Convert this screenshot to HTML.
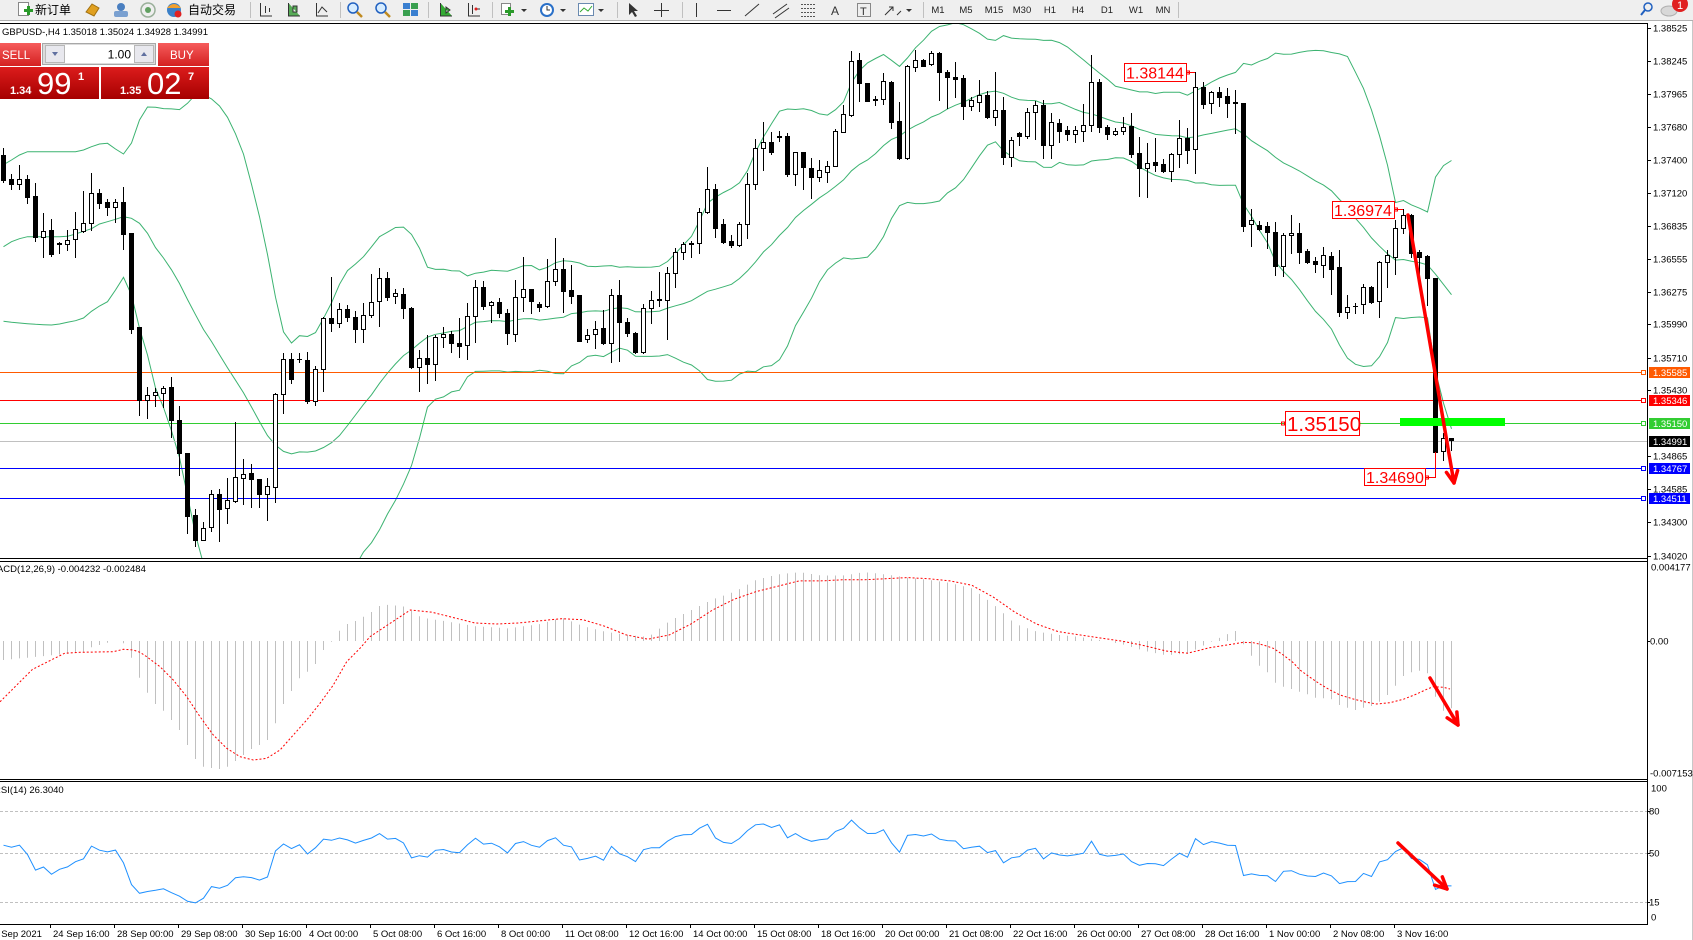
<!DOCTYPE html>
<html><head><meta charset="utf-8">
<style>
html,body{margin:0;padding:0;width:1693px;height:940px;overflow:hidden;background:#fff}
svg{position:absolute;left:0;top:0}
text{font-family:"Liberation Sans","Noto Sans CJK SC",sans-serif}
.ax{font-size:9.5px;fill:#000}
.lv{font-size:9.5px;fill:#fff}
</style></head><body>
<svg id="s" width="1693" height="940" xmlns="http://www.w3.org/2000/svg">
<defs>
<clipPath id="cm"><rect x="0" y="24" width="1647" height="534"/></clipPath>
<clipPath id="cd"><rect x="0" y="562" width="1647" height="217"/></clipPath>
<clipPath id="cr"><rect x="0" y="782" width="1647" height="142"/></clipPath>
<linearGradient id="gs" x1="0" y1="0" x2="0" y2="1"><stop offset="0" stop-color="#f65c5c"/><stop offset="1" stop-color="#d42020"/></linearGradient>
<linearGradient id="gp" x1="0" y1="0" x2="0" y2="1"><stop offset="0" stop-color="#dc1c1c"/><stop offset="1" stop-color="#a60000"/></linearGradient>
</defs>

<!-- toolbar -->
<rect x="0" y="0" width="1693" height="20" fill="#efefef"/>
<line x1="0" y1="20.5" x2="1693" y2="20.5" stroke="#b0b0b0"/>
<g>
<rect x="18.5" y="2.5" width="10" height="13" fill="#fff" stroke="#888"/>
<rect x="24" y="9" width="9" height="3" fill="#2a9a2a"/><rect x="27" y="6" width="3" height="9" fill="#2a9a2a"/>
<text x="35" y="14" font-size="12" fill="#000">新订单</text>
<polygon points="86,12 92,4 99,8 94,16" fill="#e0a020" stroke="#a07010"/>
<circle cx="121" cy="7" r="4" fill="#4a7fc0"/><rect x="114" y="11" width="14" height="6" rx="2" fill="#7aa0d0"/>
<circle cx="148" cy="10" r="7" fill="none" stroke="#9ab09a" stroke-width="1.5"/><circle cx="148" cy="10" r="3" fill="#60a060"/>
<circle cx="174" cy="10" r="7" fill="#3a80c8"/><path d="M167 8 Q174 0 181 8 Z" fill="#f0a030"/><circle cx="178" cy="14" r="3.5" fill="#e02020"/>
<text x="188" y="14" font-size="12" fill="#000">自动交易</text>
<line x1="250.5" y1="2" x2="250.5" y2="18" stroke="#c0c0c0"/>
<path d="M260.5 3 V16 H272 M265.5 6 V13 M269.5 8 V12" stroke="#333" fill="none"/>
<path d="M288.5 3 V16 H300 M293 6 h4 v6 h-4 z" stroke="#333" fill="#5a5"/>
<path d="M316.5 3 V16 H328 M318 13 L322 7 L327 12" stroke="#333" fill="none"/>
<line x1="340.5" y1="2" x2="340.5" y2="18" stroke="#c0c0c0"/>
<circle cx="353" cy="8" r="5" fill="#d6ecff" stroke="#2060c0" stroke-width="1.5"/><line x1="357" y1="12" x2="362" y2="17" stroke="#c08a20" stroke-width="2.5"/>
<circle cx="381" cy="8" r="5" fill="#d6ecff" stroke="#2060c0" stroke-width="1.5"/><line x1="385" y1="12" x2="390" y2="17" stroke="#c08a20" stroke-width="2.5"/>
<rect x="403" y="3" width="7" height="6" fill="#3a7fd0"/><rect x="411" y="3" width="7" height="6" fill="#3aa050"/><rect x="403" y="10" width="7" height="6" fill="#3aa050"/><rect x="411" y="10" width="7" height="6" fill="#3a7fd0"/>
<line x1="428.5" y1="2" x2="428.5" y2="18" stroke="#c0c0c0"/>
<path d="M440.5 3 V16 H452 M446 7 L450 10 L446 13 Z" stroke="#333" fill="#3a3"/>
<path d="M468.5 3 V16 H480 M472.5 5 V14 M476 9 H480" stroke="#333" fill="none"/><circle cx="476" cy="9" r="1.5" fill="#e02020"/>
<line x1="492.5" y1="2" x2="492.5" y2="18" stroke="#c0c0c0"/>
<rect x="501.5" y="3.5" width="9" height="11" fill="#fff" stroke="#888"/><rect x="505" y="10" width="9" height="3" fill="#2a9a2a"/><rect x="508" y="7" width="3" height="9" fill="#2a9a2a"/>
<polygon points="521,9 527,9 524,12" fill="#333"/>
<circle cx="547" cy="10" r="7" fill="#2a70c8"/><circle cx="547" cy="10" r="5" fill="#fff"/><path d="M547 6 V10 H550" stroke="#333" fill="none"/>
<polygon points="560,9 566,9 563,12" fill="#333"/>
<rect x="578.5" y="3.5" width="15" height="12" fill="#fff" stroke="#6a8ab0"/><path d="M580 12 L584 8 L588 11 L592 6" stroke="#3a3" fill="none"/>
<polygon points="598,9 604,9 601,12" fill="#333"/>
<line x1="617.5" y1="2" x2="617.5" y2="18" stroke="#c0c0c0"/>
<polygon points="629,3 629,15 632,12 635,17 637,16 634,11 638,11" fill="#333"/>
<path d="M661.5 3 V17 M654 10.5 H669" stroke="#333"/>
<line x1="682.5" y1="2" x2="682.5" y2="18" stroke="#c0c0c0"/>
<line x1="696.5" y1="3" x2="696.5" y2="17" stroke="#333"/>
<line x1="717" y1="10.5" x2="731" y2="10.5" stroke="#333"/>
<line x1="745" y1="16" x2="759" y2="4" stroke="#333"/>
<path d="M773 14 L787 4 M775 18 L789 8" stroke="#333"/>
<path d="M801 4.5 H815 M801 8.5 H815 M801 12.5 H815 M801 16.5 H815" stroke="#555" stroke-dasharray="2,1"/>
<text x="831" y="15" font-size="12" fill="#333">A</text>
<rect x="857.5" y="3.5" width="13" height="13" fill="none" stroke="#888"/><text x="860" y="15" font-size="11" fill="#333">T</text>
<path d="M885 15 L893 7 M889 7 H893 V11 M897 15 L901 11" stroke="#333" fill="none"/>
<polygon points="906,9 912,9 909,12" fill="#333"/>
<line x1="923.5" y1="2" x2="923.5" y2="18" stroke="#c0c0c0"/>
<g font-size="9.5" fill="#222" text-anchor="middle">
<text x="938" y="13">M1</text><text x="966" y="13">M5</text><text x="994" y="13">M15</text><text x="1022" y="13">M30</text><text x="1050" y="13">H1</text><text x="1078" y="13">H4</text><text x="1107" y="13">D1</text><text x="1136" y="13">W1</text><text x="1163" y="13">MN</text>
</g>
<line x1="1178.5" y1="2" x2="1178.5" y2="18" stroke="#c0c0c0"/>
<circle cx="1648" cy="7" r="4" fill="none" stroke="#2060c0" stroke-width="1.5"/><line x1="1645" y1="10" x2="1641" y2="15" stroke="#2060c0" stroke-width="2"/>
<ellipse cx="1669" cy="11" rx="8" ry="5" fill="#d8d8d8" stroke="#b0b0b0"/>
<circle cx="1680" cy="4" r="8" fill="#e02020"/><text x="1677" y="9" font-size="11" fill="#fff">1</text>
</g>

<!-- frames -->
<g stroke="#000" stroke-width="1">
<line x1="0" y1="23.5" x2="1648" y2="23.5"/>
<line x1="0" y1="558.5" x2="1648" y2="558.5"/>
<line x1="0" y1="561.5" x2="1648" y2="561.5"/>
<line x1="0" y1="779.5" x2="1648" y2="779.5"/>
<line x1="0" y1="781.5" x2="1648" y2="781.5"/>
<line x1="0" y1="924.5" x2="1648" y2="924.5"/>
<line x1="1647.5" y1="23" x2="1647.5" y2="925"/>
</g>
<line x1="1692.5" y1="21" x2="1692.5" y2="940" stroke="#c8c8c8"/>

<g id="bands" clip-path="url(#cm)" fill="none" stroke="#3cb371" stroke-width="1"></g>

<!-- level lines -->
<g stroke-width="1">
<line x1="0" y1="372.5" x2="1642" y2="372.5" stroke="#ff5a00"/>
<rect x="1641.5" y="370.5" width="4" height="4" fill="#fff" stroke="#ff5a00"/>
<line x1="0" y1="400.5" x2="1642" y2="400.5" stroke="#ff0000"/>
<rect x="1641.5" y="398.5" width="4" height="4" fill="#fff" stroke="#ff0000"/>
<line x1="0" y1="423.5" x2="1642" y2="423.5" stroke="#32cd32"/>
<rect x="1641.5" y="421.5" width="4" height="4" fill="#fff" stroke="#32cd32"/>
<line x1="0" y1="441.5" x2="1647" y2="441.5" stroke="#c0c0c0"/>
<line x1="0" y1="468.5" x2="1642" y2="468.5" stroke="#0000ff"/>
<rect x="1641.5" y="466.5" width="4" height="4" fill="#fff" stroke="#0000ff"/>
<line x1="0" y1="498.5" x2="1642" y2="498.5" stroke="#0000ff"/>
<rect x="1641.5" y="496.5" width="4" height="4" fill="#fff" stroke="#0000ff"/>
</g>

<g id="candles" clip-path="url(#cm)"></g>

<rect x="1400" y="418" width="105" height="8" fill="#00ff00"/>

<!-- price label objects -->
<g fill="#fff" stroke="#ff0000" stroke-width="1">
<rect x="1124.5" y="63.5" width="62" height="18"/>
<rect x="1332.5" y="201.5" width="62" height="17"/>
<rect x="1285.5" y="411.5" width="74" height="24"/>
<rect x="1364.5" y="468.5" width="61" height="17"/>
</g>
<g stroke="#ff0000" fill="none">
<path d="M1186.5 72.5 H1195"/><rect x="1186.5" y="71" width="3" height="3"/>
<path d="M1394.5 209.5 H1403"/><rect x="1394.5" y="208" width="3" height="3"/>
<rect x="1281.5" y="422" width="3" height="3"/>
<path d="M1425.5 477.5 H1435.5 V452"/><rect x="1425.5" y="476" width="3" height="3"/>
</g>
<g fill="#ff0000">
<text x="1126" y="78.5" font-size="16">1.38144</text>
<text x="1334" y="216" font-size="16">1.36974</text>
<text x="1287" y="431" font-size="20.5">1.35150</text>
<text x="1366" y="483" font-size="16">1.34690</text>
</g>

<!-- MACD -->
<g id="macd" clip-path="url(#cd)"></g>
<!-- RSI -->
<g clip-path="url(#cr)" stroke="#c0c0c0" stroke-dasharray="3,2">
<line x1="0" y1="811.5" x2="1647" y2="811.5"/>
<line x1="0" y1="853.5" x2="1647" y2="853.5"/>
<line x1="0" y1="902.5" x2="1647" y2="902.5"/>
</g>
<g id="rsi" clip-path="url(#cr)"></g>
<g id="arrows"></g>

<!-- header -->
<text x="2" y="35" font-size="9.5" fill="#000">GBPUSD-,H4  1.35018 1.35024 1.34928 1.34991</text>
<text x="-11" y="572" font-size="9.5" fill="#000">MACD(12,26,9) -0.004232 -0.002484</text>
<text x="-6" y="793" font-size="9.5" fill="#000">RSI(14) 26.3040</text>

<!-- trade panel -->
<rect x="0" y="43" width="41" height="23" fill="url(#gs)"/>
<text x="2" y="59" font-size="11.5" fill="#fff">SELL</text>
<rect x="42.5" y="43.5" width="113" height="21" fill="#dcdcdc" stroke="#a8a8a8"/>
<rect x="45.5" y="45.5" width="19" height="17" fill="#e8e8ee" stroke="#b8b8b8"/>
<polygon points="52,52 58,52 55,56" fill="#6070a0"/>
<rect x="65" y="45" width="69" height="18" fill="#fff"/>
<text x="131" y="58.5" font-size="12" fill="#000" text-anchor="end">1.00</text>
<rect x="134.5" y="45.5" width="19" height="17" fill="#e8e8ee" stroke="#b8b8b8"/>
<polygon points="141,56 147,56 144,52" fill="#6070a0"/>
<rect x="158" y="43" width="51" height="23" fill="url(#gs)"/>
<text x="170" y="59" font-size="11.5" fill="#fff">BUY</text>
<rect x="0" y="67" width="99" height="32" fill="url(#gp)"/>
<rect x="101" y="67" width="108" height="32" fill="url(#gp)"/>
<g fill="#fff">
<text x="10" y="94" font-size="11" font-weight="bold">1.34</text>
<text x="37" y="94" font-size="31">99</text>
<text x="78" y="80" font-size="11" font-weight="bold">1</text>
<text x="120" y="94" font-size="11" font-weight="bold">1.35</text>
<text x="147" y="94" font-size="31">02</text>
<text x="188" y="80" font-size="11" font-weight="bold">7</text>
</g>

<!-- right price axis -->
<g stroke="#000">
<path d="M1648 28.5h3M1648 61.5h3M1648 94.5h3M1648 127.5h3M1648 160.5h3M1648 193.5h3M1648 226.5h3M1648 259.5h3M1648 292.5h3M1648 324.5h3M1648 358.5h3M1648 390.5h3M1648 456.5h3M1648 489.5h3M1648 522.5h3M1648 556.5h3M1648 641.5h2M1648 811.5h2M1648 853.5h2M1648 902.5h2"/>
</g>
<g class="ax">
<text x="1653" y="31.5">1.38525</text>
<text x="1653" y="64.5">1.38245</text>
<text x="1653" y="97.5">1.37965</text>
<text x="1653" y="130.5">1.37680</text>
<text x="1653" y="163.5">1.37400</text>
<text x="1653" y="196.5">1.37120</text>
<text x="1653" y="229.5">1.36835</text>
<text x="1653" y="262.5">1.36555</text>
<text x="1653" y="295.5">1.36275</text>
<text x="1653" y="327.5">1.35990</text>
<text x="1653" y="361.5">1.35710</text>
<text x="1653" y="393.5">1.35430</text>
<text x="1653" y="459.5">1.34865</text>
<text x="1653" y="492.5">1.34585</text>
<text x="1653" y="525.5">1.34300</text>
<text x="1653" y="559.5">1.34020</text>
<text x="1651" y="570.5">0.004177</text>
<text x="1650" y="644.5">0.00</text>
<text x="1650" y="776.5">-0.007153</text>
<text x="1651" y="791.5">100</text>
<text x="1649" y="814.5">80</text>
<text x="1649" y="856.5">50</text>
<text x="1649" y="905.5">15</text>
<text x="1651" y="920.5">0</text>
</g>
<rect x="1649" y="367" width="41" height="11" fill="#ff5a00"/>
<rect x="1649" y="395" width="41" height="11" fill="#ff0000"/>
<rect x="1649" y="418" width="41" height="11" fill="#32cd32"/>
<rect x="1649" y="436" width="41" height="11" fill="#000"/>
<rect x="1649" y="463" width="41" height="11" fill="#0000ff"/>
<rect x="1649" y="493" width="41" height="11" fill="#0000ff"/>
<g class="lv">
<text x="1653" y="376">1.35585</text>
<text x="1653" y="404">1.35346</text>
<text x="1653" y="427">1.35150</text>
<text x="1653" y="445">1.34991</text>
<text x="1653" y="472">1.34767</text>
<text x="1653" y="502">1.34511</text>
</g>

<!-- time axis -->
<g stroke="#000"><path d="M50.5 925v3M114.5 925v3M178.5 925v3M242.5 925v3M306.5 925v3M370.5 925v3M434.5 925v3M498.5 925v3M562.5 925v3M626.5 925v3M690.5 925v3M754.5 925v3M818.5 925v3M882.5 925v3M946.5 925v3M1010.5 925v3M1074.5 925v3M1138.5 925v3M1202.5 925v3M1266.5 925v3M1330.5 925v3M1394.5 925v3"/></g>
<g class="ax">
<text x="-12" y="937">23 Sep 2021</text>
<text x="53" y="937">24 Sep 16:00</text>
<text x="117" y="937">28 Sep 00:00</text>
<text x="181" y="937">29 Sep 08:00</text>
<text x="245" y="937">30 Sep 16:00</text>
<text x="309" y="937">4 Oct 00:00</text>
<text x="373" y="937">5 Oct 08:00</text>
<text x="437" y="937">6 Oct 16:00</text>
<text x="501" y="937">8 Oct 00:00</text>
<text x="565" y="937">11 Oct 08:00</text>
<text x="629" y="937">12 Oct 16:00</text>
<text x="693" y="937">14 Oct 00:00</text>
<text x="757" y="937">15 Oct 08:00</text>
<text x="821" y="937">18 Oct 16:00</text>
<text x="885" y="937">20 Oct 00:00</text>
<text x="949" y="937">21 Oct 08:00</text>
<text x="1013" y="937">22 Oct 16:00</text>
<text x="1077" y="937">26 Oct 00:00</text>
<text x="1141" y="937">27 Oct 08:00</text>
<text x="1205" y="937">28 Oct 16:00</text>
<text x="1269" y="937">1 Nov 00:00</text>
<text x="1333" y="937">2 Nov 08:00</text>
<text x="1397" y="937">3 Nov 16:00</text>
</g>
</svg>
<script>
(function(){
const NS="http://www.w3.org/2000/svg";
function el(p,tag,a){const e=document.createElementNS(NS,tag);for(const k in a)e.setAttribute(k,a[k]);document.getElementById(p).appendChild(e);return e;}
const segs=[[90,[[0,195,270,175,275],[0,267,281,252,297],[1,268,281,225,297],[0,267,320,255,340],[0,318,440,280,452],[1,422,440,370,500],[0,420,492,387,498],[0,459,463,455,488],[1,449,463,420,480],[1,418,446,366,500],
[1,400,422,303,425],[1,310,400,249,420],[0,310,338,297,353],[0,336,350,327,374],[1,337,350,327,395],[0,336,432,291,476],[0,430,716,430,728],[0,711,930,711,974],[1,915,930,890,983],[1,906,916,895,948],
[1,895,910,887,950],[0,891,990,860,1040],[0,990,1090,948,1155],[0,1090,1277,1090,1330],[0,1275,1350,1258,1367],[1,1313,1350,1295,1350],[1,1213,1312,1200,1322],[0,1213,1256,1196,1352],[1,1230,1255,1165,1300],[1,1162,1232,997,1235],
[1,1153,1165,1107,1241],[0,1150,1167,1122,1250],[0,1167,1213,1167,1250],[1,1188,1213,1165,1290],[1,912,1190,910,1235],[1,808,912,790,968],[0,808,866,790,878],[0,806,808,790,815],[0,810,932,785,938],[1,838,932,828,944],
[1,685,838,680,902],[0,685,700,562,722],[1,658,700,640,710],[0,658,680,645,693],[0,682,718,662,757],[1,676,718,640,757],[1,637,676,552,680],[1,565,634,535,707],[0,565,620,545,630],[1,610,618,597,640],
[0,613,655,595,685],[0,655,832,650,835],[1,805,832,780,902],[0,804,823,736,880],[1,742,823,735,870],[1,733,742,712,772],[0,733,760,722,786],[0,760,767,685,800]]],
[30,[[1,858,946,820,988],[1,772,858,750,935],[0,772,828,752,836],[1,817,826,813,875],[0,817,850,803,862],[0,850,910,838,943],[1,802,912,750,932],[1,778,802,682,842],[0,778,812,778,850],[0,822,830,815,842],
[1,754,828,688,830],[1,718,754,625,765],[0,718,782,685,845],[0,780,797,706,818],[0,796,932,796,932],[1,916,928,898,937],[1,896,912,873,953],[0,895,938,840,942],[1,796,938,778,995],[0,796,875,750,992],
[0,875,908,865,918],[0,908,966,905,968],[1,835,966,822,970],[1,810,835,783,878],[0,806,810,726,828],[1,730,810,712,928],[1,667,728,655,772],[1,642,667,635,688],[1,638,642,632,680],[1,545,640,535,670],
[1,478,545,410,548],[0,478,593,462,620],[0,582,636,566,638],[0,633,646,615,650],[1,582,646,575,648],[1,463,583,430,623],[1,355,461,327,478],[1,337,355,275,420],[0,337,366,307,372],[0,318,320,302,333],
[0,318,432,308,438],[1,367,432,367,465],[0,367,412,367,476],[0,413,440,385,503],[1,420,440,390,452],[1,408,426,393,455],[1,303,407,298,407],[1,253,305,225,305],[1,94,255,62,258],[0,90,160,68,212],
[0,160,212,160,212],[0,208,211,198,225],[1,153,208,128,223],[0,157,275,153,293],[0,273,383,215,386],[1,108,383,104,386],[1,90,110,60,123]]],
[20,[[0,120,137,117,137],[1,100,132,93,135],[0,98,157,96,240],[0,157,172,150,263],[0,172,176,126,230],[0,175,257,165,297],[1,240,257,230,270],[1,226,245,180,272],[0,226,292,212,293],[1,270,292,156,315],
[0,270,412,232,432],[1,360,412,352,438],[0,340,347,335,374],[1,277,347,265,355],[1,256,277,243,357],[0,256,374,240,413],[1,307,374,280,415],[0,310,332,297,365],[0,331,341,318,360],[1,331,341,318,365],
[1,316,334,252,363],[1,187,316,105,332],[0,187,320,178,335],[0,320,341,315,358],[1,334,341,325,345],[1,320,334,290,342],[0,318,402,280,410],[0,400,445,352,527],[1,430,445,370,530],[0,427,434,354,452],
[0,433,452,418,455],[1,403,452,398,484],[1,355,403,300,440],[0,355,390,325,428],[1,200,388,157,458],[0,200,253,187,263],[1,217,250,212,278],[0,217,230,200,257],[0,229,248,205,290],[0,246,250,210,338],
[0,250,617,248,632],[1,601,612,568,677],[0,616,627,603,630],[0,619,635,605,683],[0,637,737,605,765],[1,646,737,640,768],[1,640,646,585,700],[0,640,695,610,728],[0,692,725,688,728]]],
[190,[[0,213,222,200,245],[1,195,225,170,262],[0,198,236,187,312],[0,232,365,180,378],[1,350,365,316,383],[0,347,349,338,370],[1,292,342,282,368],[0,292,335,288,338],[1,216,334,213,380],[1,196,217,180,290],
[1,115,200,90,252],[1,75,115,57,130],[0,75,190,72,200],[0,187,200,180,290],[0,198,265,195,345],[0,265,785,265,860],[1,745,783,730,810],[0,745,750,745,780]]]];
const B=[];
segs.forEach(function(s){const off=s[0];s[1].forEach(function(b){const w=b[0],t=off+b[1]/3,bt=off+b[2]/3,h=off+b[3]/3,l=off+b[4]/3;B.push({w:w,t:t,bt:bt,h:h,l:l,c:w?t:bt});});});
const X=function(n){return 3+8*n;};
// bollinger
const U=[164.7,160,155,151.7,151.7,151.7,151.7,151.7,151.7,151.7,150,146.7,144,143.3,149,154,143,120,107];
const M=[246.7,241.7,238.7,236.7,236.7,236.7,236.7,236.7,236.3,234,231.3,228.7,224,221.7,219.3,216.7,218.3,223.3,233.3];
const L=[321.3,322.3,323,323.7,324.3,324.7,325,324,322.3,320.7,318,311.3,306,301.7,290,277.3,295,328.3,355];
for(let n=19;n<B.length;n++){let s=0;for(let k=n-19;k<=n;k++)s+=B[k].c;const m=s/20;let v=0;for(let k=n-19;k<=n;k++)v+=(B[k].c-m)*(B[k].c-m);const sd=Math.sqrt(v/20);U.push(m-2*sd);M.push(m);L.push(m+2*sd);}
[U,M,L].forEach(function(a){el('bands','polyline',{points:a.map(function(v,n){return (X(n)+0.5)+','+v.toFixed(1);}).join(' ')});});
// candles
B.forEach(function(b,n){const x=X(n);const h=Math.round(b.h),l=Math.round(b.l),t=Math.round(b.t),bt=Math.round(b.bt);
el('candles','line',{x1:x+0.5,y1:h,x2:x+0.5,y2:l+1,stroke:'#000','stroke-width':1});
if(bt-t<1){el('candles','line',{x1:x-2,y1:t+0.5,x2:x+3,y2:t+0.5,stroke:'#000','stroke-width':1});}
else el('candles','rect',{x:x-1.5,y:t+0.5,width:4,height:bt-t,fill:b.w?'#fff':'#000',stroke:'#000','stroke-width':1});});
// MACD histogram
const H=[];for(let n=0;n<10;n++)H.push(660-n*7/9);
[652.3,647.3,645,642.7,641,643.3,657.7,677.7,692.7,704,710.7,720,730,745,759,766.7,768,769,766.7,761,755,749,745,740,723.3,704,691,678.3,671.7,664,650,641.7,630.7,624,621,616.7,612,606].forEach(function(v){H.push(v);});
const mh=[[379.3,606],[388.7,604.6],[404.9,606.8],[421,617.6],[442.7,620.8],[475,626.2],[507.5,628.4],[539.9,624],[561.4,617.6],[583,626.2],[604.6,631.6],[626.2,634.9],[647.8,637],[669.4,620.8],[691,610],[712.6,599.2],[734.2,591.7],[755.8,579.8],[777.4,574.4],[799,572.2],[820.6,575.5],[842.2,575.5],[863.8,572.2],[885.4,574.4],[907,577.6],[928.5,579.8],[950.1,583],[971.7,588.4],[993.3,604.6],[1014.9,624],[1036.5,631.6],[1058.1,634.9],[1079.7,637],[1101.3,640.3],[1122.9,644.6],[1144.5,651],[1166.1,655.4],[1187.7,653.2],[1209.3,642.4],[1227.3,634],[1235.3,631]];
function interp(p,x){for(let i=0;i<p.length-1;i++){if(x>=p[i][0]&&x<=p[i+1][0]){const f=(x-p[i][0])/(p[i+1][0]-p[i][0]);return p[i][1]+f*(p[i+1][1]-p[i][1]);}}return p[p.length-1][1];}
for(let n=48;n<154;n++)H.push(interp(mh,X(n)));
[631,644.3,655.7,665.7,672.3,682.7,686.7,689,691.7,694.3,697.7,698.3,699.3,705,707.7,710,707.7,706,701.7,695,685.7,676,672.3,670.7,673.3,696.7,710.7,708.3].forEach(function(v){H.push(v);});
H.forEach(function(v,n){if(Math.abs(v-641)<0.6)return;el('macd','line',{x1:X(n)+0.5,y1:641,x2:X(n)+0.5,y2:v.toFixed(1),stroke:'#c0c0c0','stroke-width':1});});
const sg=[[0,701.8],[32.4,669.4],[64.8,653.2],[80,652.3],[113.3,651.7],[123.3,649.3],[133.3,650],[140,652.3],[146.7,656.7],[160,666.7],[173.3,680],[186.7,696.7],[200,716.7],[213.3,735],[226.7,748.3],[240,756.7],[253.3,760],[266.7,758.3],[280,750],[293.3,735],[306.7,720],[320,703.3],[333.3,685],[346.7,661.7],[360,648.3],[370,636.7],[380,630],
[410.3,610],[431.9,612.2],[453.5,617.6],[475,623],[496.7,624],[518.3,623],[539.9,620.8],[561.4,618.7],[583,619.7],[604.6,626.2],[626.2,634.9],[647.8,639.2],[669.4,634.9],[691,624],[712.6,610],[734.2,599.2],[755.8,591.7],[777.4,586.3],[799,580.9],[820.6,580.9],[842.2,579.8],[863.8,579.8],[885.4,578.7],[907,577.6],[928.5,578.7],[950.1,580.9],[971.7,585.2],[993.3,597.1],[1014.9,612.2],[1036.5,624],[1058.1,631.6],[1079.7,634.9],[1101.3,638.1],[1122.9,641.3],[1144.5,645.7],[1166.1,651],[1187.7,653.2],[1209.3,647.8],
[1233.3,644],[1243.3,642.3],[1253.3,642.7],[1263.3,645],[1273.3,648.3],[1283.3,655],[1293.3,662.7],[1300,670],[1310,677.3],[1320,684],[1330,690],[1340,695],[1353.3,699],[1366.7,702.3],[1376.7,704],[1390,702.7],[1403.3,699.3],[1416.7,694],[1426.7,689.3],[1433.3,686.7],[1443.3,687.3],[1450,689]];
el('macd','polyline',{points:sg.map(function(p){return p[0]+','+p[1];}).join(' '),fill:'none',stroke:'#ff0000','stroke-width':1,'stroke-dasharray':'2,2'});
// RSI
let G=6,Lq=4.8;const R=[];
for(let n=0;n<B.length;n++){if(n>0){const d=B[n-1].c-B[n].c;const g=d>0?d:0,l=d<0?-d:0;G=(G*13+g)/14;Lq=(Lq*13+l)/14;}R.push(100*G/(G+Lq));}
el('rsi','polyline',{points:R.map(function(v,n){return (X(n)+0.5)+','+(923-1.4*v).toFixed(1);}).join(' '),fill:'none',stroke:'#1e90ff','stroke-width':1});
// arrows
function arrow(x1,y1,x2,y2){el('arrows','line',{x1:x1,y1:y1,x2:x2,y2:y2,stroke:'#f00','stroke-width':3.5,'stroke-linecap':'round'});
const a=Math.atan2(y2-y1,x2-x1),Ln=13,s=0.45;const p1=[x2-Ln*Math.cos(a-s),y2-Ln*Math.sin(a-s)],p2=[x2-Ln*Math.cos(a+s),y2-Ln*Math.sin(a+s)];
el('arrows','polyline',{points:p1.join(',')+' '+x2+','+y2+' '+p2.join(','),fill:'none',stroke:'#f00','stroke-width':3.5,'stroke-linejoin':'round','stroke-linecap':'round'});}
arrow(1408,215,1454,483);
arrow(1430,678,1458,725);
arrow(1398,843,1447,889);
})();
</script>
</body></html>
